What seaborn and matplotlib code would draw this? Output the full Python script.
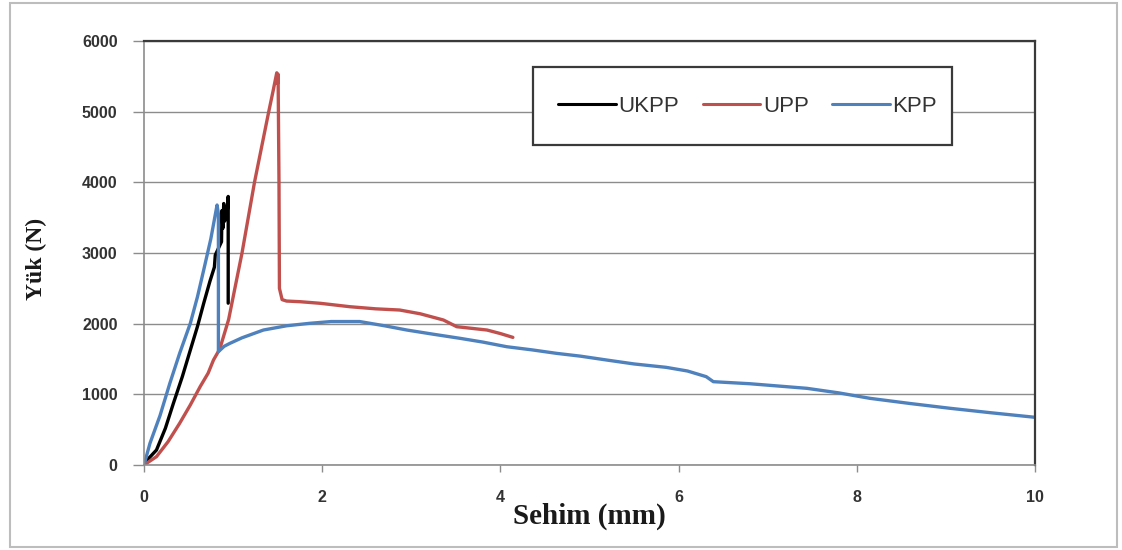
import numpy as np
import pandas as pd
import seaborn as sns
import matplotlib
matplotlib.use("Agg")
import matplotlib.pyplot as plt
from matplotlib.patches import Rectangle

# Load-deflection curves (deflection in mm, load in N)
ukpp_x = [0, 0.05, 0.14, 0.24, 0.33, 0.43, 0.52, 0.60, 0.67, 0.74, 0.79, 0.80,
          0.87, 0.875, 0.885, 0.895, 0.905, 0.92, 0.935, 0.945, 0.945]
ukpp_y = [0, 90, 212, 520, 873, 1250, 1627, 1960, 2288, 2600, 2800, 2970,
          3160, 3600, 3350, 3700, 3450, 3650, 3600, 3800, 2290]

upp_x = [0, 0.14, 0.27, 0.40, 0.52, 0.63, 0.72, 0.78, 0.85, 0.95, 1.02, 1.10,
         1.17, 1.24, 1.32, 1.40, 1.45, 1.49, 1.50, 1.505, 1.515, 1.52, 1.55,
         1.6, 1.75, 1.98, 2.31, 2.6, 2.87, 3.1, 3.36, 3.51, 3.85, 4.0, 4.14]
upp_y = [0, 118, 330, 590, 850, 1108, 1300, 1486, 1640, 2060, 2500, 3000,
         3500, 4000, 4500, 5000, 5300, 5550, 5400, 5530, 4000, 2500, 2340,
         2320, 2311, 2288, 2240, 2210, 2193, 2140, 2052, 1957, 1910, 1860, 1806]

kpp_x = [0, 0.067, 0.18, 0.29, 0.40, 0.52, 0.60, 0.67, 0.75, 0.82, 0.835, 0.835,
         0.90, 0.965, 1.1, 1.34, 1.6, 1.86, 2.1, 2.42, 2.7, 2.95, 3.25, 3.55,
         3.8, 4.07, 4.35, 4.63, 4.9, 5.19, 5.5, 5.86, 6.1, 6.31, 6.39, 6.8,
         7.44, 7.8, 8.15, 8.6, 9.05, 9.5, 10.0]
kpp_y = [0, 307, 700, 1156, 1580, 2005, 2380, 2759, 3200, 3679, 3550, 1604,
         1680, 1722, 1800, 1910, 1970, 2005, 2030, 2030, 1970, 1910, 1850, 1792,
         1740, 1674, 1630, 1580, 1540, 1486, 1430, 1382, 1330, 1250, 1179, 1150,
         1085, 1020, 943, 870, 802, 740, 675]

series_names = ["UKPP", "UPP", "KPP"]
series_colors = {"UKPP": "#000000", "UPP": "#C0504D", "KPP": "#4F81BD"}

frames = []
for name, xs, ys in zip(series_names, [ukpp_x, upp_x, kpp_x], [ukpp_y, upp_y, kpp_y]):
    frames.append(pd.DataFrame({"Sehim": xs, "Yuk": ys, "Seri": name}))
df = pd.concat(frames, ignore_index=True)

sns.set_theme(style="white")
plt.rcParams["font.family"] = ["Liberation Sans", "DejaVu Sans"]

W, H = 1122, 550
fig = plt.figure(figsize=(W / 100, H / 100), dpi=100)
ax = fig.add_axes([144 / W, 1 - 465 / H, 891 / W, 424 / H])

# outer chart frame
fig.patches.append(Rectangle((10 / W, 3 / H), 1107 / W, 544 / H,
                             transform=fig.transFigure, fill=False,
                             edgecolor="#bdbdbd", linewidth=1.5))

sns.lineplot(data=df, x="Sehim", y="Yuk", hue="Seri", hue_order=series_names,
             palette=series_colors, sort=False, estimator=None, units="Seri",
             linewidth=2.4, ax=ax, legend=False)

ax.set_xlim(0, 10)
ax.set_ylim(0, 6000)
ax.set_xticks(np.arange(0, 11, 2))
ax.set_yticks(np.arange(0, 6001, 1000))
ax.yaxis.grid(True, color="#8c8c8c", linewidth=1.0)
ax.xaxis.grid(False)
ax.set_axisbelow(True)

for side in ["left", "bottom"]:
    ax.spines[side].set_color("#8c8c8c")
    ax.spines[side].set_linewidth(1.2)
for side in ["top", "right"]:
    ax.spines[side].set_color("#3a3a3a")
    ax.spines[side].set_linewidth(1.6)

ax.tick_params(axis="y", direction="out", length=8, width=1, color="#8c8c8c",
               pad=11, left=True)
ax.tick_params(axis="x", direction="out", length=5, width=1, color="#8c8c8c",
               pad=13, bottom=True)
for lab in ax.get_xticklabels() + ax.get_yticklabels():
    lab.set_fontsize(11.5)
    lab.set_fontweight("bold")
    lab.set_color("#333333")

ax.set_xlabel("Sehim (mm)", fontsize=21, fontweight="bold",
              family=["Liberation Serif", "DejaVu Serif"], color="#1a1a1a")
ax.set_ylabel("Yük (N)", fontsize=17, fontweight="bold",
              family=["Liberation Serif", "DejaVu Serif"], color="#1a1a1a")
ax.xaxis.label.set_va("center")
ax.xaxis.set_label_coords(0.5, -0.12)
ax.yaxis.label.set_va("center")
ax.yaxis.label.set_ha("center")
ax.yaxis.set_label_coords(-0.1212, 0.485)


def px_to_axes(px, py):
    return (px - 144) / 891, (465 - py) / 424


# legend box
bx0, by0 = px_to_axes(533, 145)
bx1, by1 = px_to_axes(952, 67)
ax.add_patch(Rectangle((bx0, by0), bx1 - bx0, by1 - by0, transform=ax.transAxes,
                       facecolor="white", edgecolor="#3a3a3a", linewidth=1.6,
                       zorder=4.5))

handles = [plt.Line2D([], [], color=series_colors[n], linewidth=2.2) for n in series_names]
lx, ly = px_to_axes(558, 106)
leg = ax.legend(handles, series_names, ncol=3, loc="center left",
                bbox_to_anchor=(lx, ly), fontsize=16, frameon=False,
                borderpad=0, handlelength=2.6, handletextpad=0.12,
                columnspacing=1.05, borderaxespad=0)
leg.set_zorder(5)
for t in leg.get_texts():
    t.set_color("#333333")

fig.savefig("out.png", dpi=100, facecolor="white")
